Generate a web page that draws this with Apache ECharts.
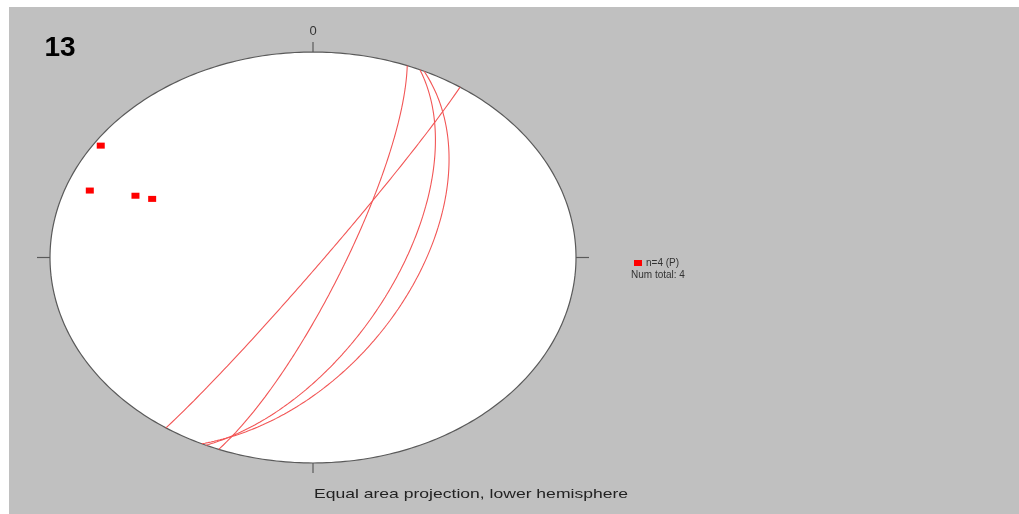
<!DOCTYPE html>
<html>
<head>
<meta charset="utf-8">
<script src="https://cdn.jsdelivr.net/npm/echarts@6/dist/echarts.min.js"></script>
<style>
  html, body { margin: 0; padding: 0; background: #ffffff; }
  #chart { position: absolute; left: 9px; top: 7px; width: 1010px; height: 507px; }
</style>
</head>
<body>
<div id="chart"></div>
<script>
// Measured planes: dip direction and dip (degrees)
const planeDipDir = [124, 111, 114, 115];
const planeDip = [87, 80, 63, 57];

// Texts
const panelLabel = '13';
const northLabel = '0';
const projectionTitle = 'Equal area projection, lower hemisphere';
const poleSetName = 'n=' + planeDip.length + ' (P)';
const totalLabel = 'Num total: ' + planeDip.length;

const FONT = 'Arial, "Liberation Sans", sans-serif';
const D = Math.PI / 180;

// Schmidt (equal area) projection of a line, lower hemisphere, unit primitive
function project(trend, plunge) {
  const r = Math.SQRT2 * Math.sin((90 - plunge) / 2 * D);
  return [r * Math.sin(trend * D), r * Math.cos(trend * D)];
}

// Great circle of a plane, traced through all lines lying in it
function greatCircle(dd, dip) {
  const s = dd - 90;
  const sv = [Math.sin(s * D), Math.cos(s * D), 0];
  const dv = [Math.cos(dip * D) * Math.sin(dd * D), Math.cos(dip * D) * Math.cos(dd * D), Math.sin(dip * D)];
  const pts = [];
  for (let a = 0; a <= 180; a += 1) {
    const c = Math.cos(a * D), sn = Math.sin(a * D);
    const v = [c * sv[0] + sn * dv[0], c * sv[1] + sn * dv[1], c * sv[2] + sn * dv[2]];
    const pl = Math.asin(Math.max(-1, Math.min(1, v[2]))) / D;
    const tr = Math.atan2(v[0], v[1]) / D;
    pts.push(project(tr, pl));
  }
  return pts;
}

// Poles to the planes
const poles = planeDipDir.map((dd, i) => project(dd + 180, 90 - planeDip[i]));

// Primitive circle outline
const primitive = [];
for (let a = 0; a < 360; a += 1) primitive.push([Math.sin(a * D), Math.cos(a * D)]);

// Compass tick positions (N, E, S, W) on the primitive
const compassTicks = [[0, 1], [1, 0], [0, -1], [-1, 0]];

const chart = echarts.init(document.getElementById('chart'), null, { renderer: 'canvas' });

const circleSeries = planeDipDir.map((dd, i) => ({
  type: 'line',
  name: 'plane' + i,
  data: greatCircle(dd, planeDip[i]),
  showSymbol: false,
  symbol: 'none',
  silent: true,
  z: 3,
  lineStyle: { color: '#f25656', width: 1.1 }
}));

const option = {
  backgroundColor: '#c0c0c0',
  animation: false,
  grid: { left: 41, top: 45, width: 526, height: 411 },
  xAxis: { type: 'value', min: -1, max: 1, show: false },
  yAxis: { type: 'value', min: -1, max: 1, show: false },
  legend: {
    data: [poleSetName],
    left: 625, top: 251,
    padding: 0,
    itemWidth: 8, itemHeight: 6,
    icon: 'rect',
    selectedMode: false,
    textStyle: { fontSize: 10, color: '#333', fontFamily: FONT, padding: [0, 0, 0, -1] }
  },
  series: [
    {
      type: 'custom',
      name: 'primitive',
      silent: true,
      z: 1,
      data: [[0, 0]],
      renderItem: function (params, api) {
        const points = primitive.map(p => api.coord(p));
        return {
          type: 'polygon',
          shape: { points: points },
          style: { fill: '#ffffff', stroke: '#5a5a5a', lineWidth: 1.2 }
        };
      }
    },
    {
      type: 'custom',
      name: 'ticks',
      silent: true,
      z: 2,
      data: compassTicks,
      renderItem: function (params, api) {
        const x = api.value(0), y = api.value(1);
        const p = api.coord([x, y]);
        const len = x === 0 ? 10 : 13;
        return {
          type: 'line',
          shape: { x1: p[0], y1: p[1], x2: p[0] + x * len, y2: p[1] - y * len },
          style: { stroke: '#5a5a5a', lineWidth: 1.2 }
        };
      }
    },
    ...circleSeries,
    {
      type: 'scatter',
      name: poleSetName,
      data: poles,
      symbol: 'rect',
      symbolSize: [8, 6],
      z: 4,
      itemStyle: { color: '#ff0000', opacity: 1 }
    }
  ],
  graphic: [
    {
      type: 'text', x: 51, y: 41,
      style: { text: panelLabel, font: 'bold 28px ' + FONT, fill: '#000', textAlign: 'center', textVerticalAlign: 'middle' }
    },
    {
      type: 'text', x: 304, y: 24,
      style: { text: northLabel, font: '13px ' + FONT, fill: '#333', textAlign: 'center', textVerticalAlign: 'middle' }
    },
    {
      type: 'text', x: 622, y: 268,
      style: { text: totalLabel, font: '10px ' + FONT, fill: '#333', textAlign: 'left', textVerticalAlign: 'middle' }
    },
    {
      type: 'text', x: 462, y: 487, scaleX: 1.3,
      style: { text: projectionTitle, font: '13.5px ' + FONT, fill: '#222', textAlign: 'center', textVerticalAlign: 'middle' }
    }
  ]
};

chart.setOption(option);
</script>
</body>
</html>
